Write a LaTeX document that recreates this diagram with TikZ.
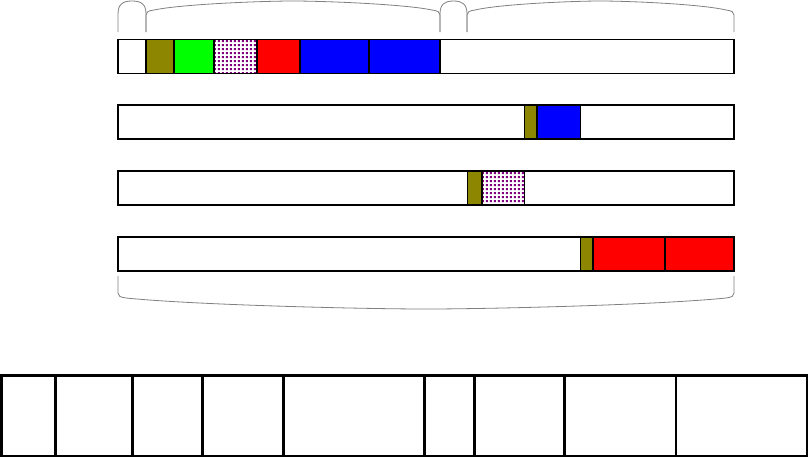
\documentclass[tikz,border=0pt]{standalone}
\usetikzlibrary{patterns}
\usepackage{xcolor}

% square dots, a bit coarser than the built-in ones
\pgfdeclarepatternformonly{bigdots}{\pgfpointorigin}{\pgfqpoint{3.2pt}{3.2pt}}{\pgfqpoint{3.2pt}{3.2pt}}
{
  \pgfpathrectangle{\pgfqpoint{0.7pt}{0.7pt}}{\pgfqpoint{1.8pt}{1.8pt}}
  \pgfusepath{fill}
}

\tikzset{
  cell/.style={draw=black, line width=0.8pt},
  dotcell/.style={cell, pattern=bigdots, pattern color=violet},
  bracket/.style={draw=gray, line width=0.6pt},
  slot/.style={draw=black, line width=2pt}
}

\begin{document}
\begin{tikzpicture}[x=0.75pt, y=-0.75pt]
  \useasboundingbox (0,0) rectangle (809,458);
  \def\xl{118} % left end of the bars
  \def\xr{734} % right end of the bars
  \def\bh{34} % height of one bar

  % the four empty bars
  \foreach \y in {39.5,105,171,237}
    \draw[cell, fill=white] (\xl,\y) rectangle (\xr,\y+\bh);

  % filled pieces: left/right/top/colour
  \foreach \a/\b/\y/\c in {146/174/39.5/olive, 174/214/39.5/green, 257/300/39.5/red,
                          300/369/39.5/blue, 369/440/39.5/blue,
                          524.5/537/105/olive, 537/580.5/105/blue,
                          467.5/482/171/olive,
                          580.5/593/237/olive, 593/665/237/red, 665/734/237/red}
    \draw[cell, fill=\c] (\a,\y) rectangle (\b,\y+\bh);
  \draw[dotcell] (214,39.5) rectangle (257,39.5+\bh);
  \draw[dotcell] (482,171) rectangle (524.5,171+\bh);

  % small braces on top
  \foreach \a/\b in {118/146, 440/467}
  {
    \pgfmathsetmacro\m{(\a+\b)/2}
    \draw[bracket] (\a,32) -- (\a,14) .. controls (\a,4) and (\a+5,1) .. (\m,1)
      .. controls (\b-5,1) and (\b,4) .. (\b,14) -- (\b,32);
  }
  % wide braces on top
  \foreach \a/\b in {146/440, 467/734}
  {
    \pgfmathsetmacro\m{(\a+\b)/2}
    \pgfmathsetmacro\q{(\b-\a)/8} % quarter of the half width
    \pgfmathsetmacro\p{(\b-\a)/10}
    \draw[bracket] (\a,32) -- (\a,15) .. controls (\a,12) and (\a+2,10.8) .. (\a+8,10)
      .. controls (\a+\q,4) and (\m-\p,1) .. (\m,1)
      .. controls (\m+\p,1) and (\b-\q,4) .. (\b-8,10)
      .. controls (\b-2,10.8) and (\b,12) .. (\b,15) -- (\b,32);
  }
  % brace under the bars
  \pgfmathsetmacro\m{(\xl+\xr)/2}
  \pgfmathsetmacro\q{(\xr-\xl)/8}
  \pgfmathsetmacro\p{(\xr-\xl)/10}
  \draw[bracket] (\xl,276) -- (\xl,293) .. controls (\xl,296) and (\xl+2,297.2) .. (\xl+8,298)
    .. controls (\xl+\q,305) and (\m-\p,309) .. (\m,309)
    .. controls (\m+\p,309) and (\xr-\q,305) .. (\xr-8,298)
    .. controls (\xr-2,297.2) and (\xr,296) .. (\xr,293) -- (\xr,276);

  % the row of slots at the bottom
  \draw[slot] (1.3,375.3) rectangle (807,456);
  \foreach \x in {55.7,132.3,202.3,283.7,424.3,474.7,564.3,676}
    \draw[slot] (\x,375.3) -- (\x,456);
\end{tikzpicture}
\end{document}
